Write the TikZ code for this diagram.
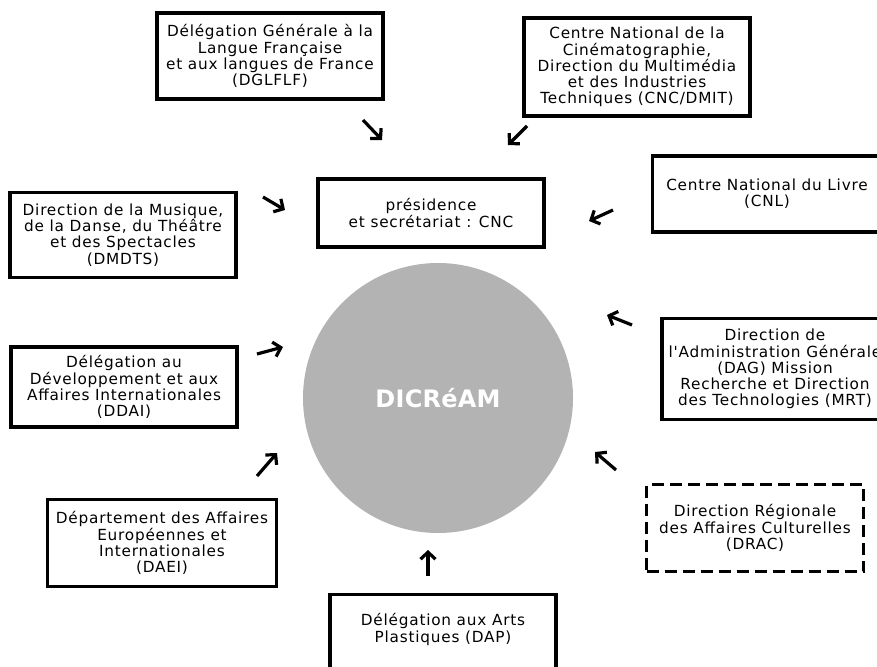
\documentclass[tikz,border=0pt]{standalone}
\usepackage{fontspec}
\usepackage{tikz}
\usetikzlibrary{arrows.meta, positioning}
\newfontfamily\boxfont[LetterSpace=5]{DejaVu Sans}
\newfontfamily\discfont[LetterSpace=1]{DejaVu Sans}
\definecolor{discgray}{RGB}{179,179,179}

\begin{document}
\begin{tikzpicture}[%
    ,x=1pt,y=-1pt
    ,>={Straight Barb[length=7pt,width=15pt]}
    ,block/.style = {%
        ,draw
        ,line width=3.2pt
        ,minimum width=226pt
        ,align=center
        ,inner sep=2pt
        ,font=\boxfont\fontsize{15.3}{16.2}\selectfont
        }
    ,dashblock/.style = {block, dash pattern=on 12pt off 6pt, line width=2.6pt}
    ,flow/.style={->, line width=3.2pt}
    ]
\useasboundingbox (0,0) rectangle (877,666);
\clip (0,0) rectangle (877,666);

\node (dicream) [circle, fill=discgray, minimum size=270pt, text=white,
    font=\discfont\bfseries\fontsize{24}{28}\selectfont] at (438,398) {DICRéAM};

\node (pres) [block, minimum height=68pt] at (431,213)
    {présidence\\et secrétariat : CNC};
\node (dglflf) [block, minimum height=86pt] at (270,56)
    {Délégation Générale à la\\Langue Française\\et aux langues de France\\(DGLFLF)};
\node (cnc) [block, minimum height=98pt] at (637,67)
    {Centre National de la\\Cinématographie,\\Direction du Multimédia\\et des Industries\\Techniques (CNC/DMIT)};
\node (cnl) [block, minimum width=229pt, minimum height=76pt] at (767,194)
    {Centre National du Livre\\(CNL)};
\node (dmdts) [block, minimum height=85pt] at (123,235)
    {Direction de la Musique,\\de la Danse, du Théâtre\\et des Spectacles\\(DMDTS)};
\node (dag) [block, minimum height=101pt] at (775,369)
    {Direction de\\l'Administration Générale\\(DAG) Mission\\Recherche et Direction\\des Technologies (MRT)};
\node (ddai) [block, minimum height=80pt] at (124,387)
    {Délégation au\\Développement et aux\\Affaires Internationales\\(DDAI)};
\node (daei) [block, minimum width=229pt, minimum height=87pt] at (162,543)
    {Département des Affaires\\Européennes et\\Internationales\\(DAEI)};
\node (dap) [block, anchor=north, inner ysep=19pt, text depth=60pt] at (443,593)
    {Délégation aux Arts\\Plastiques (DAP)};
\node (drac) [dashblock, minimum width=217pt, minimum height=87pt] at (755,528)
    {Direction Régionale\\des Affaires Culturelles\\(DRAC)};

% short arrows towards the centre
\foreach \n/\tx/\ty/\hx/\hy in
{
    1/363/120/382/140,
    2/527/126/508/145,
    3/263/197/285/210,
    4/613/210/589/221,
    5/632/325/607/315,
    6/257/354/283/347,
    7/257/476/277/453,
    8/616/470/595/452,
    9/428/576/428/550
}
{
    \coordinate (t\n) at (\tx,\ty);
    \coordinate (h\n) at (\hx,\hy);
    \draw[flow] (t\n) -- (h\n);
}
\end{tikzpicture}
\end{document}
